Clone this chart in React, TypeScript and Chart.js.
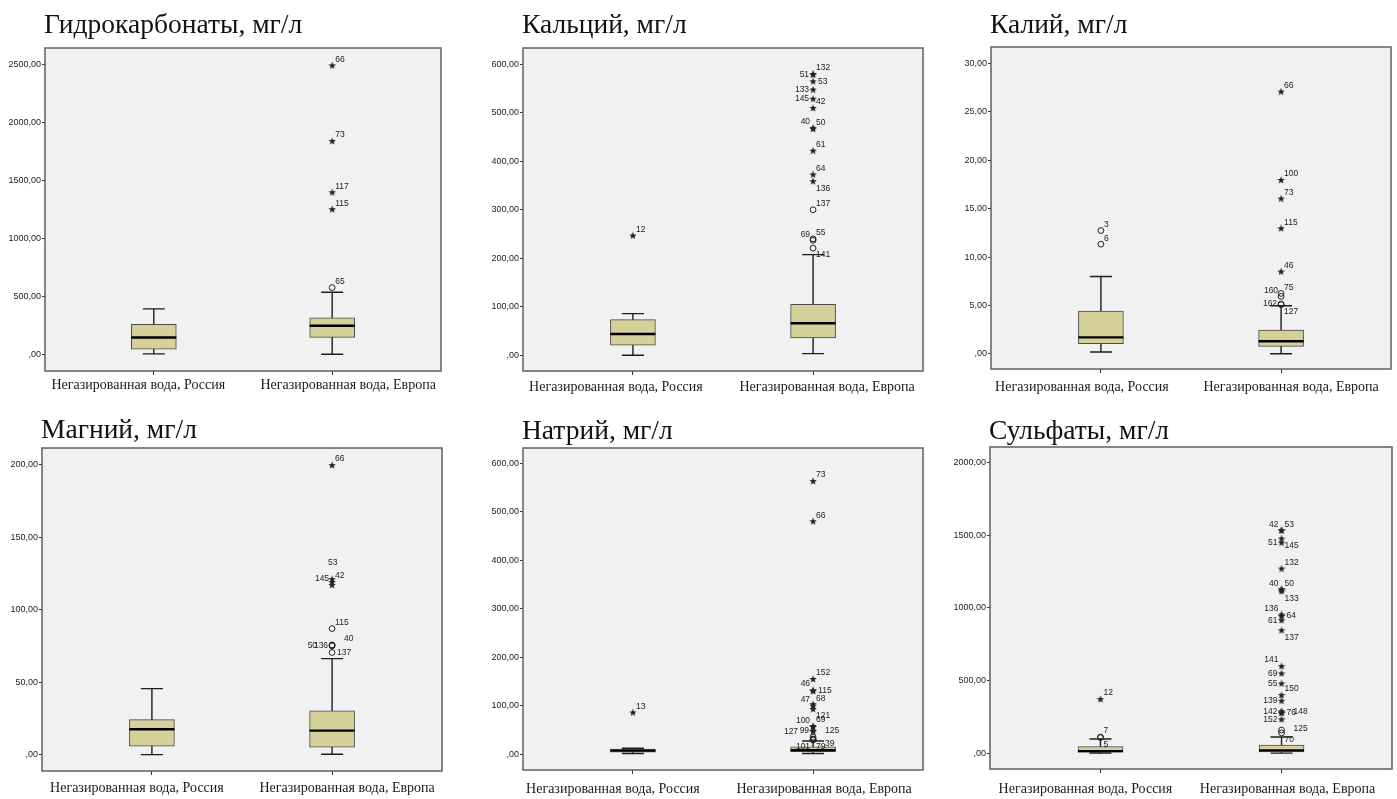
import React, { useEffect, useRef } from 'react';
import { Chart, registerables } from 'chart.js';

Chart.register(...registerables);

// ---------- DATA ----------
const categories = ['Негазированная вода, Россия', 'Негазированная вода, Европа'];

// box stats per category: [lower whisker, Q1, median, Q3, upper whisker]
// outliers: [category index, value, case id, kind ('o' = outlier, '*' = extreme)]
type Outlier = [number, number, string, string];

const bicarbTitle = 'Гидрокарбонаты, мг/л';
const bicarbTicks = [0, 500, 1000, 1500, 2000, 2500];
const bicarbBox = [[10, 51, 151, 263, 397], [6, 151, 251, 320, 540]];
const bicarbOutliers: Outlier[] = [
  [1, 580, '65', 'o'], [1, 1254, '115', '*'], [1, 1400, '117', '*'], [1, 1840, '73', '*'], [1, 2491, '66', '*'],
];
const bicarbLabelPos = ['ur', 'ur', 'ur', 'ur', 'ur'];

const caTitle = 'Кальций, мг/л';
const caTicks = [0, 100, 200, 300, 400, 500, 600];
const caBox = [[0, 21, 44, 73.5, 86], [3.4, 36, 66, 105, 207.5]];
const caOutliers: Outlier[] = [
  [0, 247, '12', '*'],
  [1, 221, '141', 'o'], [1, 237, '69', 'o'], [1, 240, '55', 'o'], [1, 300, '137', 'o'],
  [1, 359, '136', '*'], [1, 373, '64', '*'], [1, 422, '61', '*'], [1, 467, '50', '*'], [1, 469, '40', '*'],
  [1, 510, '42', '*'], [1, 529, '145', '*'], [1, 548, '133', '*'], [1, 565, '53', '*'], [1, 579, '51', '*'], [1, 580, '132', '*'],
];
const caLabelPos = ['ur', 'lr', 'ul', 'ur', 'ur', 'lr', 'ur', 'ur', 'ur', 'ul', 'ur', 'l', 'l', 'r', 'l', 'ur'];

const kTitle = 'Калий, мг/л';
const kTicks = [0, 5, 10, 15, 20, 25, 30];
const kBox = [[0.2, 1.07, 1.72, 4.43, 8.0], [0.03, 0.79, 1.31, 2.47, 4.98]];
const kOutliers: Outlier[] = [
  [0, 11.34, '6', 'o'], [0, 12.75, '3', 'o'],
  [1, 5.1, '127', 'o'], [1, 5.15, '162', 'o'], [1, 5.95, '160', 'o'], [1, 6.25, '75', 'o'],
  [1, 8.52, '46', '*'], [1, 12.99, '115', '*'], [1, 16.05, '73', '*'], [1, 17.97, '100', '*'], [1, 27.1, '66', '*'],
];
const kLabelPos = ['ur', 'ur', 'lr', 'l', 'ul', 'ur', 'ur', 'ur', 'ur', 'ur', 'ur'];

const mgTitle = 'Магний, мг/л';
const mgTicks = [0, 50, 100, 150, 200];
const mgBox = [[0, 5.75, 17.5, 24.1, 45.5], [0.2, 5.06, 16.55, 30.1, 66.2]];
const mgOutliers: Outlier[] = [
  [1, 70.4, '137', 'o'], [1, 75, '136', 'o'], [1, 75.3, '50', 'o'], [1, 75.6, '40', 'o'], [1, 86.9, '115', 'o'],
  [1, 117, '145', '*'], [1, 119, '42', '*'], [1, 121, '53', '*'], [1, 199.6, '66', '*'],
];
const mgLabelPos = ['r', 'l', 'l2', 'ur2', 'ur', 'ul', 'ur', 'u2', 'ur'];

const naTitle = 'Натрий, мг/л';
const naTicks = [0, 100, 200, 300, 400, 500, 600];
const naBox = [[1, 4, 7, 10, 12], [1, 5, 8, 15, 27]];
const naOutliers: Outlier[] = [
  [0, 86, '13', '*'],
  [1, 29, '101', 'o'], [1, 30, '79', 'o'], [1, 31, '39', 'o'], [1, 35, '125', 'o'],
  [1, 47, '127', '*'], [1, 48, '99', '*'], [1, 56, '100', '*'], [1, 58, '69', '*'], [1, 93, '121', '*'],
  [1, 100, '47', '*'], [1, 103, '68', '*'], [1, 130, '115', '*'], [1, 132, '46', '*'], [1, 155, '152', '*'],
  [1, 481, '66', '*'], [1, 564, '73', '*'],
];
const naLabelPos = ['ur', 'll', 'lr', 'lr2', 'ur2', 'l2', 'l', 'ul', 'ur', 'lr', 'ul', 'ur', 'r', 'ul', 'ur', 'ur', 'ur'];

const so4Title = 'Сульфаты, мг/л';
const so4Ticks = [0, 500, 1000, 1500, 2000];
const so4Box = [[2, 8, 15, 46, 98], [1, 10, 20, 57, 112]];
const so4Outliers: Outlier[] = [
  [0, 108, '5', 'o'], [0, 112, '7', 'o'], [0, 373, '12', '*'],
  [1, 140, '70', 'o'], [1, 160, '125', 'o'],
  [1, 234, '152', '*'], [1, 278, '148', '*'], [1, 282, '76', '*'], [1, 290, '142', '*'], [1, 362, '139', '*'],
  [1, 401, '150', '*'], [1, 481, '55', '*'], [1, 550, '69', '*'], [1, 600, '141', '*'], [1, 847, '137', '*'],
  [1, 916, '61', '*'], [1, 945, '64', '*'], [1, 955, '136', '*'], [1, 1115, '133', '*'], [1, 1127, '50', '*'],
  [1, 1129, '40', '*'], [1, 1271, '132', '*'], [1, 1450, '51', '*'], [1, 1478, '145', '*'], [1, 1533, '53', '*'],
  [1, 1535, '42', '*'],
];
const so4LabelPos = ['lr', 'ur', 'ur', 'lr', 'r2', 'l', 'r2', 'r', 'l', 'l', 'ur', 'l', 'l', 'ul', 'lr',
  'l', 'r', 'ul', 'lr', 'ur', 'ul', 'ur', 'l', 'lr', 'ur', 'ul'];

// ---------- LAYOUT / STYLE ----------
const AXW = 50;
const TP = 46;
const RP = 5;
const BP = 30;

const LABEL_OFFSETS: Record<string, [number, number, CanvasTextAlign]> = {
  ur: [3, -6, 'left'],
  ur2: [12, -6, 'left'],
  ul: [-3, -6, 'right'],
  u2: [-4, -16, 'left'],
  r: [5, 0, 'left'],
  r2: [12, -1, 'left'],
  l: [-4, 0, 'right'],
  l2: [-15, 0, 'right'],
  lr: [3, 7, 'left'],
  lr2: [12, 5, 'left'],
  ll: [-3, 7, 'right'],
};

const panels = [
  { title: bicarbTitle, ticks: bicarbTicks, box: bicarbBox, out: bicarbOutliers, pos: bicarbLabelPos,
    L: 45, T: 48, R: 441, B: 371, min: -137.6, max: 2640, titleY: 33, xLab: 14, catShift: [-15.5, 16] },
  { title: caTitle, ticks: caTicks, box: caBox, out: caOutliers, pos: caLabelPos,
    L: 523, T: 48, R: 923, B: 371, min: -32.4, max: 633.6, titleY: 33, xLab: 16, catShift: [-17, 14] },
  { title: kTitle, ticks: kTicks, box: kBox, out: kOutliers, pos: kLabelPos,
    L: 991, T: 47, R: 1391, B: 369, min: -1.55, max: 31.7, titleY: 33, xLab: 18, catShift: [-19, 10] },
  { title: mgTitle, ticks: mgTicks, box: mgBox, out: mgOutliers, pos: mgLabelPos,
    L: 42, T: 448, R: 442, B: 771, min: -11.3, max: 211.4, titleY: 438, xLab: 17.5, catShift: [-15, 15] },
  { title: naTitle, ticks: naTicks, box: naBox, out: naOutliers, pos: naLabelPos,
    L: 523, T: 448, R: 923, B: 770, min: -33, max: 632.2, titleY: 439, xLab: 19, catShift: [-20, 11] },
  { title: so4Title, ticks: so4Ticks, box: so4Box, out: so4Outliers, pos: so4LabelPos,
    L: 990, T: 447, R: 1392, B: 769, min: -107.9, max: 2107.2, titleY: 439, xLab: 20, catShift: [-15, 6] },
];

type Panel = typeof panels[number];

const BOX_W = 45;
const CAP_W = 22;

function makeStar(): HTMLCanvasElement {
  const c = document.createElement('canvas');
  c.width = 8;
  c.height = 8;
  const ctx = c.getContext('2d')!;
  ctx.fillStyle = '#222';
  ctx.beginPath();
  for (let i = 0; i < 10; i++) {
    const r = i % 2 === 0 ? 4 : 1.7;
    const a = -Math.PI / 2 + (i * Math.PI) / 5;
    const x = 4 + r * Math.cos(a);
    const y = 4.3 + r * Math.sin(a);
    if (i === 0) ctx.moveTo(x, y);
    else ctx.lineTo(x, y);
  }
  ctx.closePath();
  ctx.fill();
  return c;
}

function fmt(v: number): string {
  if (v === 0) return ',00';
  return v.toFixed(2).replace('.', ',');
}

function makePlugin(p: Panel) {
  const canvasTop = p.T - TP;
  return {
    id: 'boxExtras',
    beforeDraw(chart: any) {
      const { ctx, chartArea: a } = chart;
      ctx.save();
      ctx.fillStyle = '#f1f1f1';
      ctx.fillRect(a.left, a.top, a.right - a.left, a.bottom - a.top);
      ctx.restore();
    },
    beforeDatasetsDraw(chart: any) {
      const { ctx } = chart;
      const xs = chart.scales.x;
      const ys = chart.scales.y;
      ctx.save();
      ctx.strokeStyle = '#1e1e1e';
      ctx.lineWidth = 1.4;
      p.box.forEach((b, i) => {
        const x = xs.getPixelForValue(i);
        const yLo = ys.getPixelForValue(b[0]);
        const yHi = ys.getPixelForValue(b[4]);
        ctx.beginPath();
        ctx.moveTo(x, yLo);
        ctx.lineTo(x, yHi);
        ctx.moveTo(x - CAP_W / 2, yLo);
        ctx.lineTo(x + CAP_W / 2, yLo);
        ctx.moveTo(x - CAP_W / 2, yHi);
        ctx.lineTo(x + CAP_W / 2, yHi);
        ctx.stroke();
      });
      ctx.restore();
    },
    afterDatasetDraw(chart: any, args: any) {
      if (args.meta.type !== 'bar') return;
      const { ctx } = chart;
      const xs = chart.scales.x;
      const ys = chart.scales.y;
      ctx.save();
      ctx.strokeStyle = '#000';
      ctx.lineWidth = 2.4;
      p.box.forEach((b, i) => {
        const x = xs.getPixelForValue(i);
        const y = ys.getPixelForValue(b[2]);
        ctx.beginPath();
        ctx.moveTo(x - BOX_W / 2, y);
        ctx.lineTo(x + BOX_W / 2, y);
        ctx.stroke();
      });
      ctx.restore();
    },
    afterDatasetsDraw(chart: any) {
      const { ctx } = chart;
      const meta = chart.getDatasetMeta(1);
      ctx.save();
      ctx.font = '8.5px "Liberation Sans", Arial, sans-serif';
      ctx.fillStyle = '#222';
      ctx.textBaseline = 'middle';
      meta.data.forEach((pt: any, i: number) => {
        const id = p.out[i][2];
        const [dx, dy, align] = LABEL_OFFSETS[p.pos[i]] || LABEL_OFFSETS.ur;
        ctx.textAlign = align;
        ctx.fillText(id, pt.x + dx, pt.y + dy);
      });
      ctx.restore();
    },
    afterDraw(chart: any) {
      const { ctx, chartArea: a } = chart;
      const xs = chart.scales.x;
      ctx.save();
      ctx.strokeStyle = '#5f5f5f';
      ctx.lineWidth = 1.5;
      ctx.strokeRect(a.left, a.top, a.right - a.left, a.bottom - a.top);
      // category labels
      ctx.fillStyle = '#1a1a1a';
      ctx.font = '14px "Liberation Serif", "Times New Roman", serif';
      ctx.textAlign = 'center';
      ctx.textBaseline = 'middle';
      categories.forEach((c, i) => {
        ctx.fillText(c, xs.getPixelForValue(i) + p.catShift[i], a.bottom + p.xLab);
      });
      // title
      ctx.fillStyle = '#111';
      ctx.font = '27.5px "Liberation Serif", "Times New Roman", serif';
      ctx.textAlign = 'left';
      ctx.textBaseline = 'alphabetic';
      ctx.fillText(p.title, a.left - 1, p.titleY - canvasTop);
      ctx.restore();
    },
  };
}

function makeConfig(p: Panel, star: HTMLCanvasElement): any {
  return {
    type: 'bar',
    data: {
      datasets: [
        {
          type: 'bar',
          data: p.box.map((b, i) => ({ x: i, y: [b[1], b[3]] })),
          backgroundColor: '#d6d19b',
          borderColor: '#4a4a4a',
          borderWidth: 1,
          borderSkipped: false,
          barThickness: BOX_W,
          order: 2,
        },
        {
          type: 'scatter',
          data: p.out.map((o) => ({ x: o[0], y: o[1] })),
          pointStyle: p.out.map((o) => (o[3] === '*' ? star : 'circle')),
          pointRadius: 2.9,
          pointBorderWidth: 1,
          pointBorderColor: '#222',
          pointBackgroundColor: 'rgba(255,255,255,0)',
          showLine: false,
          order: 1,
        },
      ],
    },
    options: {
      animation: false,
      responsive: false,
      maintainAspectRatio: false,
      events: [],
      layout: { padding: { left: 0, right: RP, top: TP, bottom: 0 } },
      plugins: {
        legend: { display: false },
        tooltip: { enabled: false },
        title: { display: false },
      },
      scales: {
        x: {
          type: 'linear',
          min: -0.61,
          max: 1.61,
          offset: false,
          afterBuildTicks: (s: any) => {
            s.ticks = categories.map((_, i) => ({ value: i }));
          },
          afterFit: (s: any) => {
            s.height = BP;
          },
          ticks: { display: false },
          grid: { drawOnChartArea: false, drawTicks: true, tickLength: 4, color: '#333', offset: false },
          border: { display: false },
        },
        y: {
          type: 'linear',
          min: p.min,
          max: p.max,
          beginAtZero: false,
          afterBuildTicks: (s: any) => {
            s.ticks = p.ticks.map((v) => ({ value: v }));
          },
          afterFit: (s: any) => {
            s.width = AXW;
          },
          ticks: {
            callback: (v: number) => fmt(v),
            font: { family: '"Liberation Sans", Arial, sans-serif', size: 9 },
            color: '#222',
            padding: 1,
          },
          grid: { drawOnChartArea: false, drawTicks: true, tickLength: 3, color: '#333' },
          border: { display: false },
        },
      },
    },
    plugins: [makePlugin(p)],
  };
}

export default function App() {
  const refs = useRef<(HTMLCanvasElement | null)[]>([]);

  useEffect(() => {
    document.body.style.margin = '0';
    const star = makeStar();
    const charts = panels.map((p, i) => new Chart(refs.current[i] as HTMLCanvasElement, makeConfig(p, star)));
    return () => {
      charts.forEach((c) => c.destroy());
    };
  }, []);

  return (
    <div style={{ position: 'relative', width: 1397, height: 799, background: '#fff', overflow: 'hidden' }}>
      {panels.map((p, i) => {
        const w = p.R - p.L + AXW + RP;
        const h = p.B - p.T + TP + BP;
        return (
          <canvas
            key={i}
            ref={(el) => {
              refs.current[i] = el;
            }}
            width={w}
            height={h}
            style={{ position: 'absolute', left: p.L - AXW, top: p.T - TP, width: w, height: h }}
          />
        );
      })}
    </div>
  );
}
